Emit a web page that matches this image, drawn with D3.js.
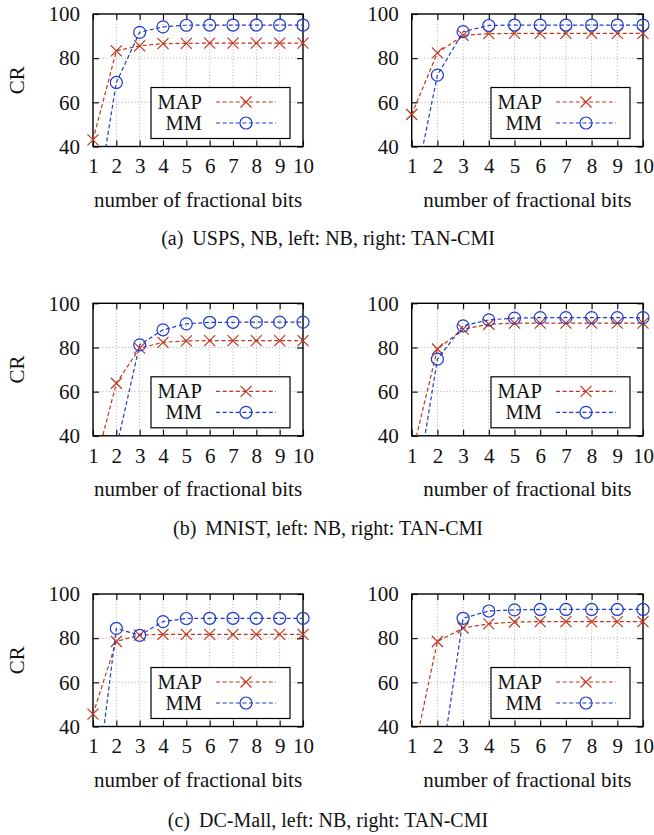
<!DOCTYPE html>
<html>
<head>
<meta charset="utf-8">
<style>
body { margin: 0; background: #fff; }
text { font-family: "Liberation Serif", "Times New Roman", serif; fill: #111; }
</style>
</head>
<body>
<script src="https://cdn.jsdelivr.net/npm/d3@7"></script>
<script>
// data (values below 40 are estimated from the clipped line slopes)
var bits = [1, 2, 3, 4, 5, 6, 7, 8, 9, 10];
var yTicks = [40, 60, 80, 100];
var seriesNames = ["MAP", "MM"];

var uspsNbMap  = [43, 83.3, 85.6, 86.6, 86.7, 86.8, 86.8, 86.8, 86.8, 86.8];
var uspsNbMm   = [4, 69, 91.7, 94.2, 94.9, 95, 95, 95, 95, 95];
var uspsTanMap = [54.5, 82.4, 90.3, 91.1, 91.2, 91.2, 91.2, 91.2, 91.2, 91.2];
var uspsTanMm  = [15, 72.3, 92, 94.8, 95, 95, 95, 95, 95, 95];

var mnistNbMap  = [23, 63.8, 79.7, 82.3, 83, 83.1, 83.1, 83.1, 83.1, 83.1];
var mnistNbMm   = [12, 34.4, 81.2, 88, 90.7, 91.4, 91.4, 91.5, 91.5, 91.5];
var mnistTanMap = [31, 79.3, 88.3, 90.5, 91, 91, 91, 91, 91, 91];
var mnistTanMm  = [3, 74.7, 89.8, 92.5, 93.3, 93.5, 93.5, 93.5, 93.5, 93.5];

var dcNbMap  = [45.6, 78.5, 81.4, 81.7, 81.7, 81.7, 81.7, 81.7, 81.7, 81.7];
var dcNbMm   = [0, 84.4, 81.3, 87.5, 88.9, 89, 89, 89, 89, 89];
var dcTanMap = [23.5, 78.5, 84.6, 86.5, 87.3, 87.5, 87.5, 87.5, 87.5, 87.5];
var dcTanMm  = [5, 11, 89, 92.3, 92.8, 93, 93, 93, 93, 93];

var captionTags = ["(a)", "(b)", "(c)"];
var captionTexts = ["USPS, NB, left: NB, right: TAN-CMI",
                    "MNIST, left: NB, right: TAN-CMI",
                    "DC-Mall, left: NB, right: TAN-CMI"];
var xTitle = "number of fractional bits";
var yTitle = "CR";

// layout
var w = 654, h = 835;
var plotH = 132.5;
var rowTop = [14, 303.3, 594];
var captionY = [245, 535, 827];
var cols = [[93, 303], [411.7, 643]];
var red = "#c0361c", blue = "#1d3ccb";

var rows = [
  [[uspsNbMap, uspsNbMm], [uspsTanMap, uspsTanMm]],
  [[mnistNbMap, mnistNbMm], [mnistTanMap, mnistTanMm]],
  [[dcNbMap, dcNbMm], [dcTanMap, dcTanMm]]
];

var svg = d3.select("body").append("svg")
  .attr("width", w).attr("height", h);

function crossPath(s) {
  return "M" + (-s) + "," + (-s) + "L" + s + "," + s + "M" + (-s) + "," + s + "L" + s + "," + (-s);
}

function drawPanel(r, c, series) {
  var top = rowTop[r];
  var x = d3.scaleLinear().domain([1, 10]).range(cols[c]);
  var y = d3.scaleLinear().domain([40, 100]).range([top + plotH, top]);
  var g = svg.append("g");
  var id = "clip" + r + c;

  g.append("clipPath").attr("id", id)
    .append("rect")
    .attr("x", x(1)).attr("y", y(100))
    .attr("width", x(10) - x(1)).attr("height", y(40) - y(100));

  // dotted grid
  g.selectAll(".vg").data(bits.slice(1, -1)).enter().append("line")
    .attr("x1", d => x(d)).attr("x2", d => x(d))
    .attr("y1", y(40)).attr("y2", y(100))
    .attr("stroke", "#999").attr("stroke-width", 0.8).attr("stroke-dasharray", "1,2.2");
  g.selectAll(".hg").data(yTicks.slice(1, -1)).enter().append("line")
    .attr("x1", x(1)).attr("x2", x(10))
    .attr("y1", d => y(d)).attr("y2", d => y(d))
    .attr("stroke", "#999").attr("stroke-width", 0.8).attr("stroke-dasharray", "1,2.2");

  // axes, ticks inward on all four sides
  var ax = g.append("g").attr("transform", "translate(0," + y(40) + ")")
    .call(d3.axisBottom(x).tickValues(bits).tickSize(-6).tickPadding(12));
  var ay = g.append("g").attr("transform", "translate(" + x(1) + ",0)")
    .call(d3.axisLeft(y).tickValues(yTicks).tickSize(-6).tickPadding(13));
  var at = g.append("g").attr("transform", "translate(0," + y(100) + ")")
    .call(d3.axisTop(x).tickValues(bits).tickSize(-6).tickFormat(""));
  var ar = g.append("g").attr("transform", "translate(" + x(10) + ",0)")
    .call(d3.axisRight(y).tickValues(yTicks).tickSize(-6).tickFormat(""));
  [ax, ay, at, ar].forEach(function (a) {
    a.select(".domain").remove();
    a.selectAll("line").attr("stroke", "#000").attr("stroke-width", 1.1);
    a.selectAll("text").attr("font-size", 21).attr("fill", "#111")
      .style("font-family", "'Liberation Serif', serif");
  });

  g.append("rect")
    .attr("x", x(1)).attr("y", y(100))
    .attr("width", x(10) - x(1)).attr("height", y(40) - y(100))
    .attr("fill", "none").attr("stroke", "#000").attr("stroke-width", 1.4);

  var line = d3.line().x((d, i) => x(bits[i])).y(d => y(d));
  var colors = [red, blue];

  series.forEach(function (vals, k) {
    g.append("path").datum(vals)
      .attr("clip-path", "url(#" + id + ")")
      .attr("d", line)
      .attr("fill", "none").attr("stroke", colors[k])
      .attr("stroke-width", 1.2).attr("stroke-dasharray", "4,2.6");
    var pts = vals.map((v, i) => [bits[i], v]).filter(p => p[1] >= 40);
    if (k === 0) {
      g.selectAll(".m" + k).data(pts).enter().append("path")
        .attr("transform", p => "translate(" + x(p[0]) + "," + y(p[1]) + ")")
        .attr("d", crossPath(5.5))
        .attr("fill", "none").attr("stroke", colors[k]).attr("stroke-width", 1.2);
    } else {
      g.selectAll(".m" + k).data(pts).enter().append("circle")
        .attr("cx", p => x(p[0])).attr("cy", p => y(p[1])).attr("r", 6)
        .attr("fill", "none").attr("stroke", colors[k]).attr("stroke-width", 1.2);
    }
  });

  // legend
  var lx = x(10) - 13 - 139, ly = y(40) - 8 - 51;
  var lg = g.append("g").attr("transform", "translate(" + lx + "," + ly + ")");
  lg.append("rect").attr("width", 139).attr("height", 51)
    .attr("fill", "#fff").attr("stroke", "#000").attr("stroke-width", 1.2);
  seriesNames.forEach(function (name, k) {
    var yy = 14.5 + k * 21;
    lg.append("text").attr("x", 51).attr("y", yy).attr("dy", "0.35em")
      .attr("text-anchor", "end").attr("font-size", 20.5).text(name);
    lg.append("line").attr("x1", 65).attr("x2", 125).attr("y1", yy).attr("y2", yy)
      .attr("stroke", colors[k]).attr("stroke-width", 1.2).attr("stroke-dasharray", "4,2.6");
    if (k === 0) {
      lg.append("path").attr("transform", "translate(95," + yy + ")")
        .attr("d", crossPath(5.5)).attr("fill", "none")
        .attr("stroke", colors[k]).attr("stroke-width", 1.2);
    } else {
      lg.append("circle").attr("cx", 95).attr("cy", yy).attr("r", 6)
        .attr("fill", "none").attr("stroke", colors[k]).attr("stroke-width", 1.2);
    }
  });

  // titles
  g.append("text").attr("x", (x(1) + x(10)) / 2).attr("y", y(40) + 60)
    .attr("text-anchor", "middle").attr("font-size", 21).text(xTitle);
  if (c === 0) {
    g.append("text")
      .attr("transform", "translate(" + 24 + "," + (top + plotH / 2) + ") rotate(-90)")
      .attr("text-anchor", "middle").attr("font-size", 21).text(yTitle);
  }
}

rows.forEach(function (row, r) {
  row.forEach(function (series, c) { drawPanel(r, c, series); });
  var t = svg.append("text").attr("x", 328).attr("y", captionY[r])
    .attr("text-anchor", "middle").attr("font-size", 20);
  t.append("tspan").text(captionTags[r]);
  t.append("tspan").attr("dx", 9).text(captionTexts[r]);
});
</script>
</body>
</html>
